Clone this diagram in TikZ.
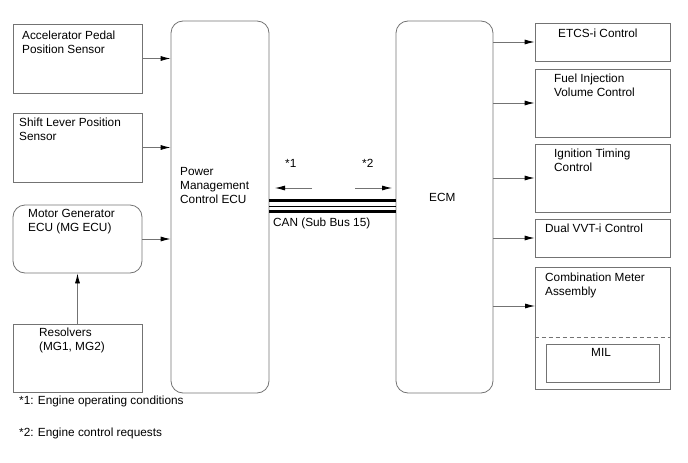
\documentclass[tikz,border=0pt]{standalone}
\usepackage{fontspec}
\setmainfont{Liberation Sans}
\usetikzlibrary{arrows.meta}
\tikzset{
  box/.style={draw=black!55, line width=0.8pt, inner sep=0pt},
  rbox/.style={box, rounded corners=12pt},
  arr/.style={draw=black!55, line width=0.8pt, -{Latex[color=black,length=10pt,width=5pt]}},
  txt/.style={inner sep=0pt, align=left, anchor=north west, font=\fontsize{11.8}{14}\selectfont},
  bus/.style={line width=3pt}
}
\begin{document}
\begin{tikzpicture}[x=1pt,y=-1pt]
  \useasboundingbox (0,0) rectangle (688,463);
  % left side
  \node[box, minimum width=129pt, minimum height=69pt] (app) at (77.5,58.5) {};
  \node[box, minimum width=129pt, minimum height=69pt] (slp) at (77.5,147.5) {};
  \node[rbox, minimum width=129pt, minimum height=68pt] (mgecu) at (77.5,239) {};
  \node[box, minimum width=129pt, minimum height=68pt] (res) at (77.5,358) {};
  \node[rbox, minimum width=98pt, minimum height=372pt] (pmecu) at (220,207) {};
  % right side
  \node[rbox, minimum width=97pt, minimum height=372pt] (ecm) at (444.5,207) {};
  \node[box, minimum width=135pt, minimum height=38pt] (etcs) at (602.5,42) {};
  \node[box, minimum width=135pt, minimum height=68pt] (fuel) at (602.5,103) {};
  \node[box, minimum width=135pt, minimum height=68pt] (ign) at (602.5,178) {};
  \node[box, minimum width=135pt, minimum height=38pt] (vvt) at (602.5,238) {};
  \node[box, minimum width=135pt, minimum height=122pt] (meter) at (602.5,328) {};
  \node[box, minimum width=113pt, minimum height=38pt] (mil) at (602.5,363) {};
  \draw[draw=black!55, line width=0.8pt, dash pattern=on 4pt off 3pt] (meter.west |- 0,337) -- (meter.east |- 0,337);

  % texts
  \node[txt] (tapp) at (22,31) {Accelerator Pedal\\Position Sensor};
  \node[txt] (tslp) at (19,118) {Shift Lever Position\\Sensor};
  \node[txt] (tmg) at (28,209) {Motor Generator\\ECU (MG ECU)};
  \node[txt] (tres) at (39,328) {Resolvers\\(MG1, MG2)};
  \node[txt] (tpm) at (180,167) {Power\\Management\\Control ECU};
  \node[txt] (tecm) at (429,193) {ECM};
  \node[txt] (tetcs) at (558,29) {ETCS-i Control};
  \node[txt] (tfuel) at (554,74) {Fuel Injection\\Volume Control};
  \node[txt] (tign) at (554,149) {Ignition Timing\\Control};
  \node[txt] (tvvt) at (545,224) {Dual VVT-i Control};
  \node[txt] (tmeter) at (545,273) {Combination Meter\\Assembly};
  \node[txt] (tmil) at (591,348) {MIL};
  \node[txt] (tone) at (285,159) {*1};
  \node[txt] (ttwo) at (362,159) {*2};
  \node[txt] (tcan) at (273,218) {CAN (Sub Bus 15)};
  \node[txt] (note1) at (19,396) {*1: Engine operating conditions};
  \node[txt] (note2) at (19,428) {*2: Engine control requests};

  % inputs
  \draw[arr] (app.east) -- (app.east -| pmecu.west);
  \draw[arr] (slp.east) -- (slp.east -| pmecu.west);
  \draw[arr] (mgecu.east) -- (mgecu.east -| pmecu.west);
  \draw[arr] (res.north) -- (mgecu.south);

  % CAN bus
  \draw[bus] (pmecu.east |- 0,200.5) -- (ecm.west |- 0,200.5);
  \draw[line width=0.8pt] (pmecu.east |- 0,206) -- (ecm.west |- 0,206);
  \draw[bus] (pmecu.east |- 0,211.5) -- (ecm.west |- 0,211.5);
  \coordinate (c1s) at (312,188);
  \coordinate (c1e) at (275,188);
  \coordinate (c2s) at (355,188);
  \coordinate (c2e) at (392,188);
  \draw[arr] (c1s) -- (c1e);
  \draw[arr] (c2s) -- (c2e);

  % outputs
  \coordinate (mtr) at (535,306);
  \draw[arr] (ecm.east |- etcs.west) -- (etcs.west);
  \draw[arr] (ecm.east |- fuel.west) -- (fuel.west);
  \draw[arr] (ecm.east |- ign.west) -- (ign.west);
  \draw[arr] (ecm.east |- vvt.west) -- (vvt.west);
  \draw[arr] (ecm.east |- mtr) -- (mtr);
\end{tikzpicture}
\end{document}
